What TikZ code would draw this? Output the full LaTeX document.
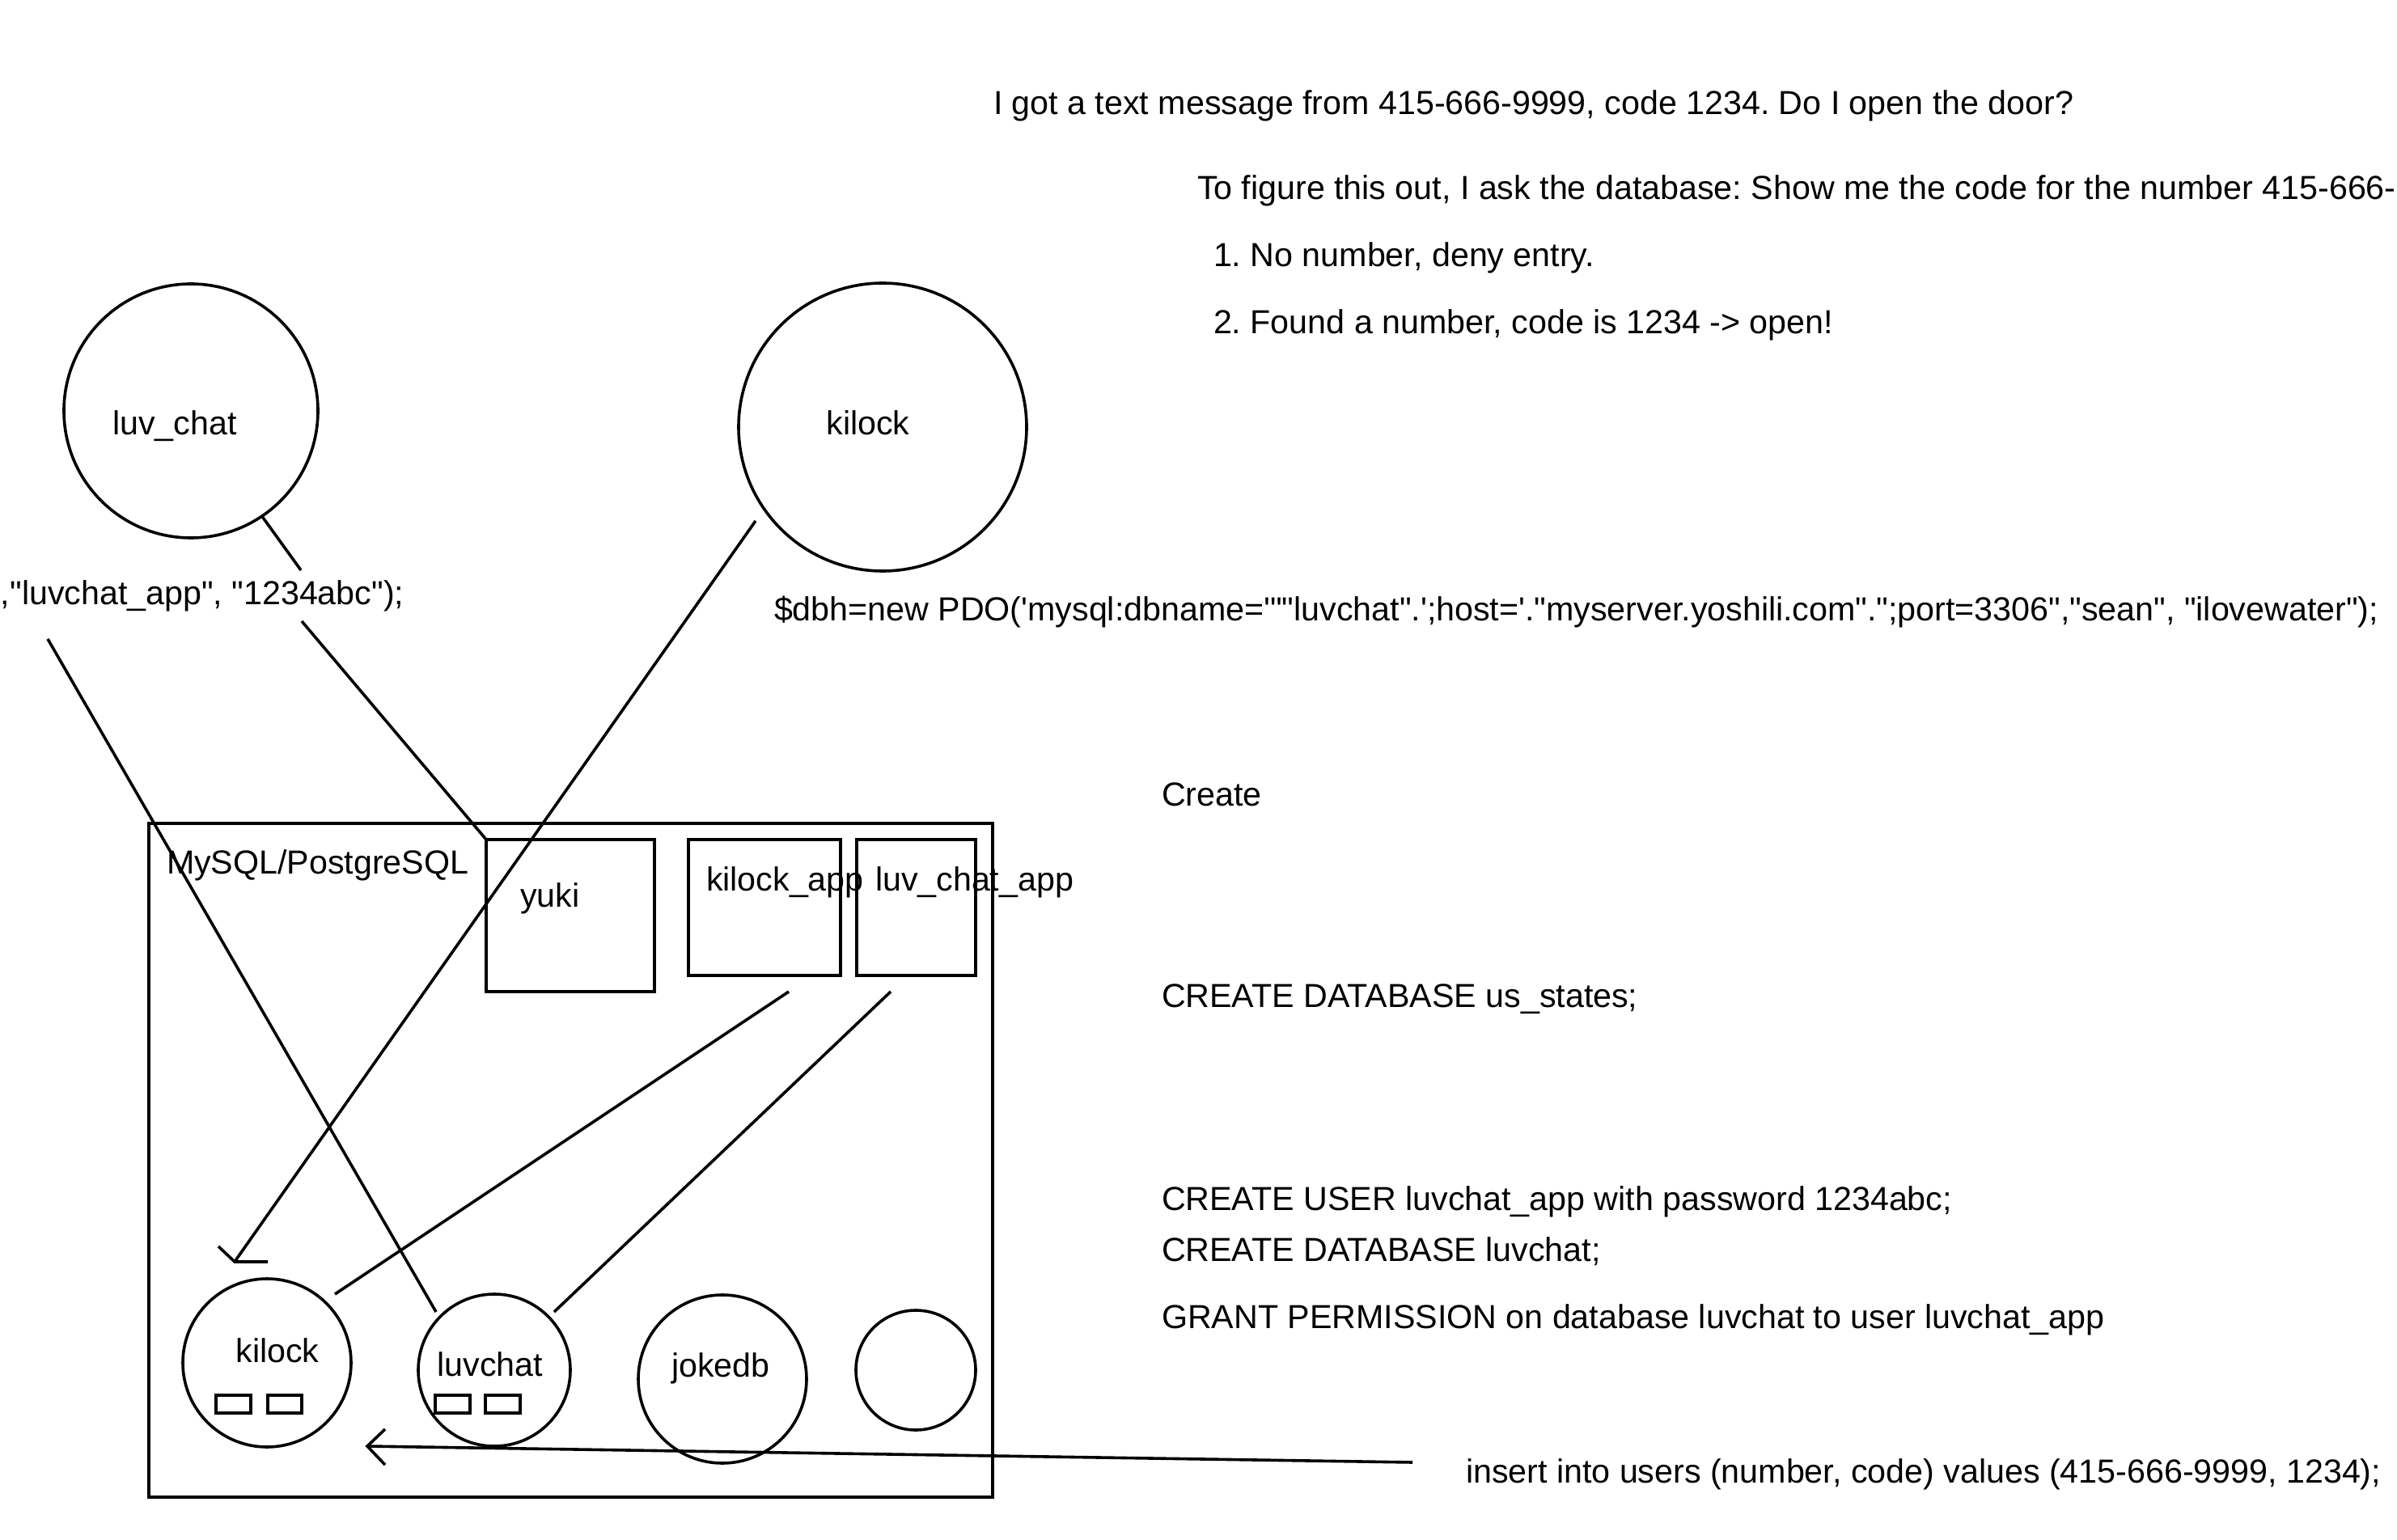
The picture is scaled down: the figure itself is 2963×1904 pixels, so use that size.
\documentclass[tikz,border=0pt]{standalone}
\usepackage{fontspec}
\setmainfont{Liberation Sans}[Ligatures=TeXOff]
\begin{document}
\frenchspacing
\begin{tikzpicture}[x=0.5pt,y=-0.5pt, line width=1.8pt,
  every node/.style={font=\fontsize{20.6pt}{24pt}\selectfont\frenchspacing, inner sep=0pt, outer sep=0pt},
  txt/.style={anchor=base west},
  ring/.style={draw, circle, inner sep=0pt},
  tbl/.style={draw, rectangle, inner sep=0pt}]
\useasboundingbox (0,0) rectangle (2963,1904);
\clip (0,0) rectangle (2963,1904);

% top text
\node[txt] (t1) at (1228,142) {I got a text message from 415-666-9999, code 1234. Do I open the door?};
\node[txt] (t2) at (1480,247) {To figure this out, I ask the database: Show me the code for the number 415-666-};
\node[txt] (t3) at (1500,330) {1. No number, deny entry.};
\node[txt] (t4) at (1500,413) {2. Found a number, code is 1234 -> open!};

% app circles
\node[ring, minimum size=157pt] (lc) at (236,508) {};
\node[anchor=base] (lcl) at (216,538) {luv\_chat};
\node[ring, minimum size=178pt] (kl) at (1091,528) {};
\node[anchor=base] (kll) at (1073,538) {kilock};

\node[txt] (php) at (1,747) {,"luvchat\_app", "1234abc");};
\node[txt] (dbh) at (957,767) {\$dbh=new PDO('mysql:dbname='""luvchat".';host='."myserver.yoshili.com".";port=3306","sean", "ilovewater");};

% right column SQL
\node[txt] (cr) at (1436,996) {Create};
\node[txt] (cdb) at (1436,1245) {CREATE DATABASE us\_states;};
\node[txt] (cu) at (1436,1496) {CREATE USER luvchat\_app with password 1234abc;};
\node[txt] (cdl) at (1436,1559) {CREATE DATABASE luvchat;};
\node[txt] (gp) at (1436,1642) {GRANT PERMISSION on database luvchat to user luvchat\_app};
\node[txt] (ins) at (1812,1833) {insert into users (number, code) values (415-666-9999, 1234);};

% server box
\node[tbl, minimum width=521.5pt, minimum height=416.5pt] (srv) at (705.5,1434.5) {};
\node[txt] (srvl) at (206,1080) {MySQL/PostgreSQL};

\node[tbl, minimum width=104pt, minimum height=94pt] (yuki) at (705,1132) {};
\node[anchor=base] (yukil) at (680,1121) {yuki};
\node[tbl, minimum width=94pt, minimum height=84pt] (kapp) at (945,1122) {};
\node[txt] (kappl) at (873,1101) {kilock\_app};
\node[tbl, minimum width=73.5pt, minimum height=84pt] (lapp) at (1132.5,1122) {};
\node[txt] (lappl) at (1082,1101) {luv\_chat\_app};

% databases
\node[ring, minimum size=104pt] (kdb) at (330,1685) {};
\node[anchor=base] (kdbl) at (343,1684) {kilock};
\node[tbl, minimum width=21.5pt, minimum height=11pt] (kt1) at (288.5,1736) {};
\node[tbl, minimum width=21pt, minimum height=11pt] (kt2) at (352,1736) {};
\node[ring, minimum size=94pt] (ldb) at (611,1694) {};
\node[anchor=base] (ldbl) at (606,1701) {luvchat};
\node[tbl, minimum width=21.5pt, minimum height=11pt] (lt1) at (559.5,1736) {};
\node[tbl, minimum width=21.5pt, minimum height=11pt] (lt2) at (621.5,1736) {};
\node[ring, minimum size=104pt] (jdb) at (893,1705) {};
\node[anchor=base] (jdbl) at (891,1702) {jokedb};
\node[ring, minimum size=74pt] (edb) at (1132,1694) {};

% connectors
\coordinate (a1) at (372,705);
\coordinate (a2) at (373,768);
\draw (lc.-56) -- (a1);
\draw (a2) -- (yuki.north west);

\coordinate (b0) at (59,790);
\coordinate (b1) at (539,1622);
\draw (b0) -- (b1);

\coordinate (c0) at (934,644);
\coordinate (ctip) at (290,1560);
\coordinate (cb1) at (270,1541);
\coordinate (cb2) at (331,1560);
\draw (c0) -- (ctip);
\draw (cb1) -- (ctip) -- (cb2);

\coordinate (d0) at (975,1226);
\coordinate (d1) at (414,1600);
\draw (d0) -- (d1);

\coordinate (e0) at (1101,1226);
\coordinate (e1) at (685,1622);
\draw (e0) -- (e1);

\coordinate (f0) at (1746,1808);
\coordinate (ftip) at (454,1788);
\coordinate (fb1) at (476,1767);
\coordinate (fb2) at (476,1811);
\draw (f0) -- (ftip);
\draw (fb1) -- (ftip) -- (fb2);
\end{tikzpicture}
\end{document}
